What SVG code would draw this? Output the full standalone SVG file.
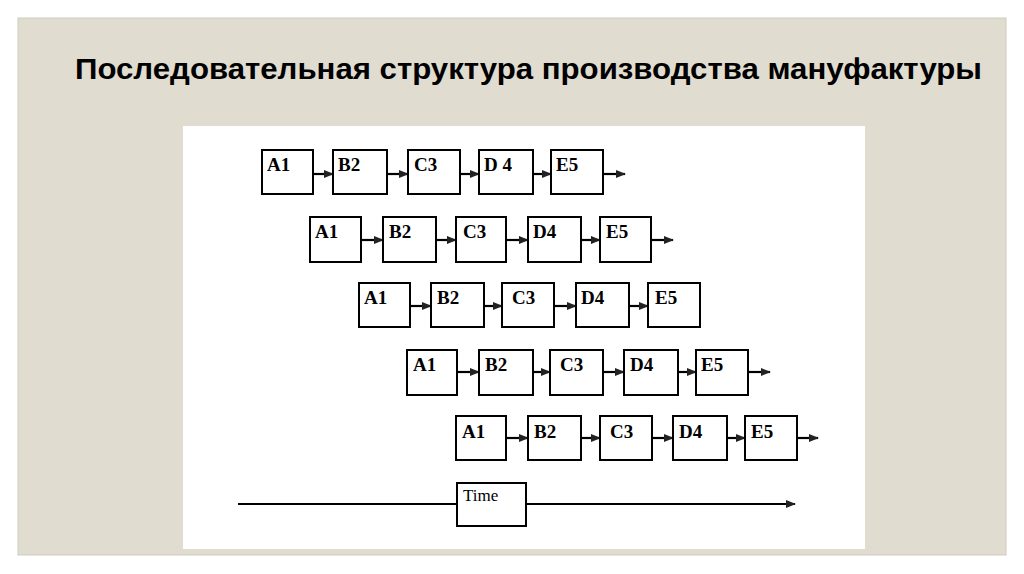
<svg xmlns="http://www.w3.org/2000/svg" width="1024" height="574" viewBox="0 0 1024 574">
<style>
.box{fill:#fff;stroke:#000;stroke-width:2}
.lbl{font-family:"Liberation Serif",serif;font-weight:bold;font-size:19px;fill:#000}
.con{stroke:#000;stroke-width:2.2;fill:none}
</style>
<defs>
<marker id="ah" markerWidth="10" markerHeight="8" refX="9" refY="4" orient="auto" markerUnits="userSpaceOnUse">
<path d="M0,0 L10,4 L0,8 Z" fill="#222"/>
</marker>
</defs>
<rect x="0" y="0" width="1024" height="574" fill="#fff"/>
<rect x="18" y="18" width="988" height="537" fill="#e0dcd0" stroke="#cfcbc0" stroke-width="1"/>
<text x="75" y="79" font-family="'Liberation Sans',Arial,sans-serif" font-weight="bold" font-size="30" textLength="907" lengthAdjust="spacingAndGlyphs" fill="#000">Последовательная структура производства мануфактуры</text>
<rect x="183" y="126" width="682" height="423" fill="#fff"/>

<g id="connectors">
<line class="con" x1="311" y1="174" x2="333" y2="174" marker-end="url(#ah)"/>
<line class="con" x1="385" y1="174" x2="408" y2="174" marker-end="url(#ah)"/>
<line class="con" x1="458" y1="174" x2="479" y2="174" marker-end="url(#ah)"/>
<line class="con" x1="531" y1="174" x2="551" y2="174" marker-end="url(#ah)"/>
<line class="con" x1="601" y1="174" x2="625" y2="174" marker-end="url(#ah)"/>
<line class="con" x1="359" y1="240" x2="383" y2="240" marker-end="url(#ah)"/>
<line class="con" x1="434" y1="240" x2="456" y2="240" marker-end="url(#ah)"/>
<line class="con" x1="504" y1="240" x2="528" y2="240" marker-end="url(#ah)"/>
<line class="con" x1="579" y1="240" x2="600" y2="240" marker-end="url(#ah)"/>
<line class="con" x1="649" y1="240" x2="673" y2="240" marker-end="url(#ah)"/>
<line class="con" x1="408" y1="306" x2="431" y2="306" marker-end="url(#ah)"/>
<line class="con" x1="482" y1="306" x2="502" y2="306" marker-end="url(#ah)"/>
<line class="con" x1="552" y1="306" x2="576" y2="306" marker-end="url(#ah)"/>
<line class="con" x1="627" y1="306" x2="648" y2="306" marker-end="url(#ah)"/>
<line class="con" x1="455" y1="372" x2="479" y2="372" marker-end="url(#ah)"/>
<line class="con" x1="531" y1="372" x2="550" y2="372" marker-end="url(#ah)"/>
<line class="con" x1="601" y1="372" x2="624" y2="372" marker-end="url(#ah)"/>
<line class="con" x1="676" y1="372" x2="696" y2="372" marker-end="url(#ah)"/>
<line class="con" x1="746" y1="372" x2="770" y2="372" marker-end="url(#ah)"/>
<line class="con" x1="504" y1="438" x2="528" y2="438" marker-end="url(#ah)"/>
<line class="con" x1="579" y1="438" x2="600" y2="438" marker-end="url(#ah)"/>
<line class="con" x1="650" y1="438" x2="673" y2="438" marker-end="url(#ah)"/>
<line class="con" x1="725" y1="438" x2="745" y2="438" marker-end="url(#ah)"/>
<line class="con" x1="795" y1="438" x2="818" y2="438" marker-end="url(#ah)"/>
<line class="con" x1="238" y1="504" x2="457" y2="504"/>
<line class="con" x1="526" y1="504" x2="795" y2="504" marker-end="url(#ah)"/>
</g>

<g id="r1a"><rect class="box" x="262" y="150" width="51" height="44"/><text class="lbl" x="267" y="171">A1</text></g>
<g id="r1b"><rect class="box" x="333" y="150" width="54" height="44"/><text class="lbl" x="338" y="171">B2</text></g>
<g id="r1c"><rect class="box" x="408" y="150" width="52" height="44"/><text class="lbl" x="414" y="171">C3</text></g>
<g id="r1d"><rect class="box" x="479" y="150" width="54" height="44"/><text class="lbl" x="484" y="171">D 4</text></g>
<g id="r1e"><rect class="box" x="551" y="150" width="52" height="44"/><text class="lbl" x="556" y="171">E5</text></g>

<g id="r2a"><rect class="box" x="310" y="217" width="51" height="45"/><text class="lbl" x="315" y="238">A1</text></g>
<g id="r2b"><rect class="box" x="383" y="217" width="53" height="45"/><text class="lbl" x="389" y="238">B2</text></g>
<g id="r2c"><rect class="box" x="456" y="217" width="50" height="45"/><text class="lbl" x="463" y="238">C3</text></g>
<g id="r2d"><rect class="box" x="528" y="217" width="53" height="45"/><text class="lbl" x="533" y="238">D4</text></g>
<g id="r2e"><rect class="box" x="600" y="217" width="51" height="45"/><text class="lbl" x="606" y="238">E5</text></g>

<g id="r3a"><rect class="box" x="359" y="283" width="51" height="44"/><text class="lbl" x="364" y="304">A1</text></g>
<g id="r3b"><rect class="box" x="431" y="283" width="53" height="44"/><text class="lbl" x="437" y="304">B2</text></g>
<g id="r3c"><rect class="box" x="502" y="283" width="52" height="44"/><text class="lbl" x="512" y="304">C3</text></g>
<g id="r3d"><rect class="box" x="576" y="283" width="53" height="44"/><text class="lbl" x="581" y="304">D4</text></g>
<g id="r3e"><rect class="box" x="648" y="283" width="52" height="44"/><text class="lbl" x="655" y="304">E5</text></g>

<g id="r4a"><rect class="box" x="407" y="350" width="50" height="45"/><text class="lbl" x="413" y="371">A1</text></g>
<g id="r4b"><rect class="box" x="479" y="350" width="54" height="45"/><text class="lbl" x="485" y="371">B2</text></g>
<g id="r4c"><rect class="box" x="550" y="350" width="53" height="45"/><text class="lbl" x="560" y="371">C3</text></g>
<g id="r4d"><rect class="box" x="624" y="350" width="54" height="45"/><text class="lbl" x="630" y="371">D4</text></g>
<g id="r4e"><rect class="box" x="696" y="350" width="52" height="45"/><text class="lbl" x="701" y="371">E5</text></g>

<g id="r5a"><rect class="box" x="456" y="416" width="50" height="44"/><text class="lbl" x="462" y="438">A1</text></g>
<g id="r5b"><rect class="box" x="528" y="416" width="53" height="44"/><text class="lbl" x="534" y="438">B2</text></g>
<g id="r5c"><rect class="box" x="600" y="416" width="52" height="44"/><text class="lbl" x="610" y="438">C3</text></g>
<g id="r5d"><rect class="box" x="673" y="416" width="54" height="44"/><text class="lbl" x="679" y="438">D4</text></g>
<g id="r5e"><rect class="box" x="745" y="416" width="52" height="44"/><text class="lbl" x="751" y="438">E5</text></g>

<g id="time"><rect class="box" x="457" y="483" width="69" height="43"/><text x="463" y="501" font-family="'Liberation Serif',serif" font-size="17" fill="#000">Time</text></g>
</svg>
